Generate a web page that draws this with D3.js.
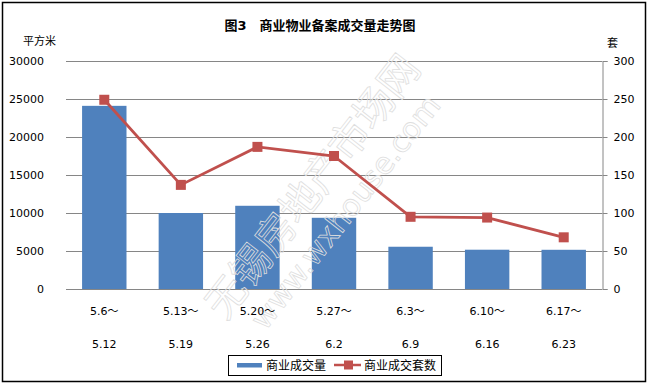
<!DOCTYPE html>
<html><head><meta charset="utf-8">
<script src="https://cdn.jsdelivr.net/npm/d3@7"></script>
<style>
html,body{margin:0;padding:0;background:#fff;}
text{font-family:"DejaVu Sans","Noto Sans CJK SC",sans-serif;}
</style></head><body>
<svg id="c" width="648" height="385"></svg>
<script>
const categoriesTop = ["5.6～","5.13～","5.20～","5.27～","6.3～","6.10～","6.17～"];
const categoriesBottom = ["5.12","5.19","5.26","6.2","6.9","6.16","6.23"];
const areaValues = [24100, 10000, 10950, 9370, 5560, 5170, 5160];
const unitValues = [249, 137, 187, 175, 95, 94, 68];
const leftTicks = [0,5000,10000,15000,20000,25000,30000];
const rightTicks = [0,50,100,150,200,250,300];
const seriesNames = ["商业成交量","商业成交套数"];
const title = "图3　商业物业备案成交量走势图";

const svg = d3.select("#c");
const cjk = '"Noto Sans CJK SC",sans-serif';
const barColor = "#4F81BD", lineColor = "#C0504D";
const L = 66, R = 602, T = 61, B = 289;

svg.append("rect").attr("x",2.5).attr("y",2.5).attr("width",643).attr("height",379)
  .attr("fill","#fff").attr("stroke","#000").attr("stroke-width",1.5);

const x = d3.scaleBand().domain(d3.range(categoriesTop.length)).range([L,R]).paddingInner(0.42).paddingOuter(0.21);
const yL = d3.scaleLinear().domain([0,30000]).range([B,T]);
const yR = d3.scaleLinear().domain([0,300]).range([B,T]);

// gridlines
svg.append("g").selectAll("line").data(leftTicks).join("line")
  .attr("x1",L).attr("x2",R).attr("y1",d=>yL(d)+0.5).attr("y2",d=>yL(d)+0.5)
  .attr("stroke","#868686").attr("stroke-width",1);

// left tick labels
svg.append("g").selectAll("text").data(leftTicks).join("text")
  .attr("x",44).attr("y",d=>yL(d)+4).attr("text-anchor","end")
  .attr("font-size",11).attr("fill","#000").text(d=>d);

// right axis
const ra = svg.append("g").attr("transform",`translate(${R+0.5},0)`)
  .call(d3.axisRight(yR).tickValues(rightTicks).tickSize(5).tickPadding(6));
ra.select(".domain").attr("stroke","#868686");
ra.selectAll(".tick line").attr("stroke","#868686");
ra.selectAll(".tick text").attr("font-size",11).attr("fill","#000")
  .attr("font-family","DejaVu Sans,sans-serif");

// bars
svg.append("g").selectAll("rect").data(areaValues).join("rect")
  .attr("x",(d,i)=>x(i)).attr("width",x.bandwidth())
  .attr("y",d=>yL(d)).attr("height",d=>B-yL(d)).attr("fill",barColor);

// watermark
const wm = svg.append("g").attr("transform","translate(330,200) rotate(-52)")
  .attr("fill","none").attr("stroke","#dedede").attr("stroke-width",0.8);
wm.append("text").attr("x",0).attr("y",-8).attr("text-anchor","middle")
  .attr("font-family",cjk).attr("font-size",40).text("无锡房地产市场网");
wm.append("text").attr("x",0).attr("y",30).attr("text-anchor","middle")
  .attr("font-size",30).text("www.wxhouse.com");

// line
const cx = i => x(i)+x.bandwidth()/2;
svg.append("path").datum(unitValues)
  .attr("d", d3.line().x((d,i)=>cx(i)).y(d=>yR(d)))
  .attr("fill","none").attr("stroke",lineColor).attr("stroke-width",2.8);
svg.append("g").selectAll("rect").data(unitValues).join("rect")
  .attr("x",(d,i)=>cx(i)-5).attr("y",d=>yR(d)-5).attr("width",10).attr("height",10)
  .attr("fill",lineColor);

// x labels
svg.append("g").selectAll("text").data(categoriesTop).join("text")
  .attr("x",(d,i)=>cx(i)).attr("y",315).attr("text-anchor","middle")
  .attr("font-size",11).text(d=>d);
svg.append("g").selectAll("text").data(categoriesBottom).join("text")
  .attr("x",(d,i)=>cx(i)).attr("y",348).attr("text-anchor","middle")
  .attr("font-size",11).text(d=>d);

// title & axis titles
svg.append("text").attr("x",320).attr("y",30).attr("text-anchor","middle")
  .attr("font-family",cjk).attr("font-weight","bold").attr("font-size",13).text(title);
svg.append("text").attr("x",23).attr("y",44.5).attr("font-family",cjk).attr("font-size",11).text("平方米");
svg.append("text").attr("x",607).attr("y",47).attr("font-family",cjk).attr("font-size",11).text("套");

// legend
const lg = svg.append("g");
lg.append("rect").attr("x",228.5).attr("y",355.5).attr("width",213).attr("height",20)
  .attr("fill","#fff").attr("stroke","#000").attr("stroke-width",1);
lg.append("rect").attr("x",237).attr("y",363).attr("width",25).attr("height",4.5).attr("fill",barColor);
lg.append("text").attr("x",266).attr("y",370).attr("font-family",cjk).attr("font-size",12).text(seriesNames[0]);
lg.append("line").attr("x1",334).attr("x2",361).attr("y1",365).attr("y2",365)
  .attr("stroke",lineColor).attr("stroke-width",2.5);
lg.append("rect").attr("x",344).attr("y",360.5).attr("width",9).attr("height",9).attr("fill",lineColor);
lg.append("text").attr("x",364).attr("y",370).attr("font-family",cjk).attr("font-size",12).text(seriesNames[1]);
</script></body></html>
